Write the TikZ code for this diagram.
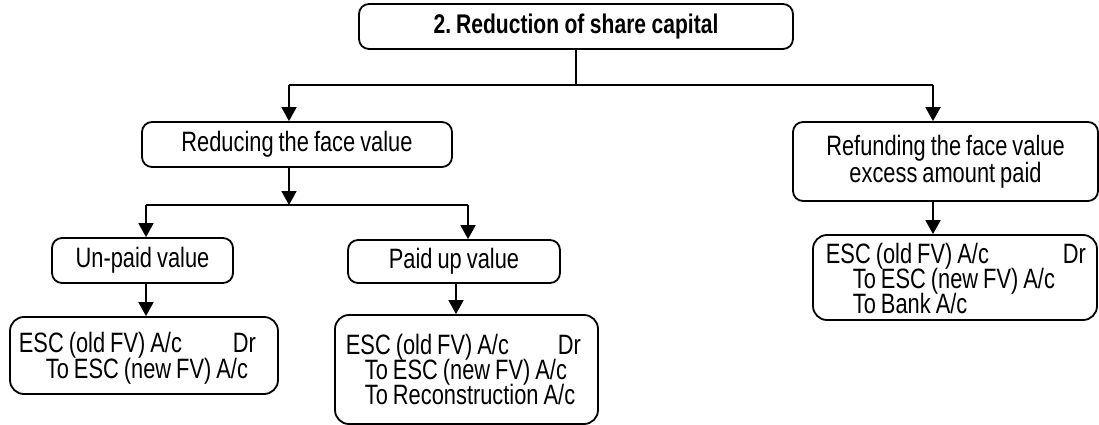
\documentclass[tikz,border=0pt]{standalone}
\usepackage{fontspec}
\setmainfont{Liberation Sans}[FakeStretch=0.78]
\usetikzlibrary{arrows.meta}
\newcommand{\chartfont}{\fontsize{28pt}{27pt}\selectfont\spaceskip=5pt\xspaceskip=5pt\relax}
\begin{document}
\begin{tikzpicture}[x=1pt,y=-1pt,
  line width=1.8pt,
  capbox/.style={draw, rounded corners=10pt, inner sep=0pt, align=center,
    font=\chartfont},
  entrybox/.style={draw, rounded corners=14pt, inner sep=0pt},
  entry/.style={anchor=base west, inner sep=0pt, font=\chartfont,
    text height=19pt, text depth=4pt},
  arr/.style={-{Triangle[width=15pt,length=14pt]}}]
\useasboundingbox (0,0) rectangle (1099,425);

% heading
\node[capbox, minimum width=434pt, minimum height=45pt] (top) at (576,26.5)
  {\fontsize{27pt}{26pt}\selectfont\bfseries\spaceskip=5.5pt\relax 2. Reduction of share capital};

% second level
\node[capbox, minimum width=310pt, minimum height=45pt] (red) at (297,144.5)
  {Reducing the face value};
\node[capbox, minimum width=305pt, minimum height=79pt] (ref) at (945.5,161.5)
  {Refunding the face value\\excess amount paid};

% third level
\node[capbox, minimum width=181pt, minimum height=45pt] (unp) at (142.5,260.5)
  {Un-paid value};
\node[capbox, minimum width=212pt, minimum height=43pt] (pd) at (454,261.5)
  {Paid up value};

% journal entry boxes
\node[entrybox, minimum width=268pt, minimum height=77pt] (ebl) at (144,355.5) {};
\node[entrybox, minimum width=263pt, minimum height=109pt] (ebm) at (466.5,369.5) {};
\node[entrybox, minimum width=284pt, minimum height=85pt] (ebr) at (955,277.5) {};

% journal entry lines
\node[entry] (ebl-1) at (18,352) {ESC (old FV) A/c};
\node[entry] (ebl-dr) at (232,352) {Dr};
\node[entry] (ebl-2) at (45,378) {To ESC (new FV) A/c};

\node[entry] (ebm-1) at (345,354) {ESC (old FV) A/c};
\node[entry] (ebm-dr) at (557,354) {Dr};
\node[entry] (ebm-2) at (364,379) {To ESC (new FV) A/c};
\node[entry] (ebm-3) at (364,404) {To Reconstruction A/c};

\node[entry] (ebr-1) at (825,263) {ESC (old FV) A/c};
\node[entry] (ebr-dr) at (1062,263) {Dr};
\node[entry] (ebr-2) at (852,288) {To ESC (new FV) A/c};
\node[entry] (ebr-3) at (852,313) {To Bank A/c};

% branching points
\coordinate (j0) at (576,85);
\coordinate (jl) at (289,85);
\coordinate (jr) at (933,85);
\coordinate (j1) at (289,205);
\coordinate (j1l) at (146,205);
\coordinate (j1r) at (468,205);
\coordinate (px) at (456,0);

% connectors
\draw (top.south) -- (j0);
\draw (jl) -- (jr);
\draw[arr] (jl) -- (jl |- red.north);
\draw[arr] (jr) -- (jr |- ref.north);
\draw[arr] (j1 |- red.south) -- (j1);
\draw (j1l) -- (j1r);
\draw[arr] (j1l) -- (j1l |- unp.north);
\draw[arr] (j1r) -- (j1r |- pd.north);
\draw[arr] (j1l |- unp.south) -- (j1l |- ebl.north);
\draw[arr] (px |- pd.south) -- (px |- ebm.north);
\draw[arr] (jr |- ref.south) -- (jr |- ebr.north);
\end{tikzpicture}
\end{document}
